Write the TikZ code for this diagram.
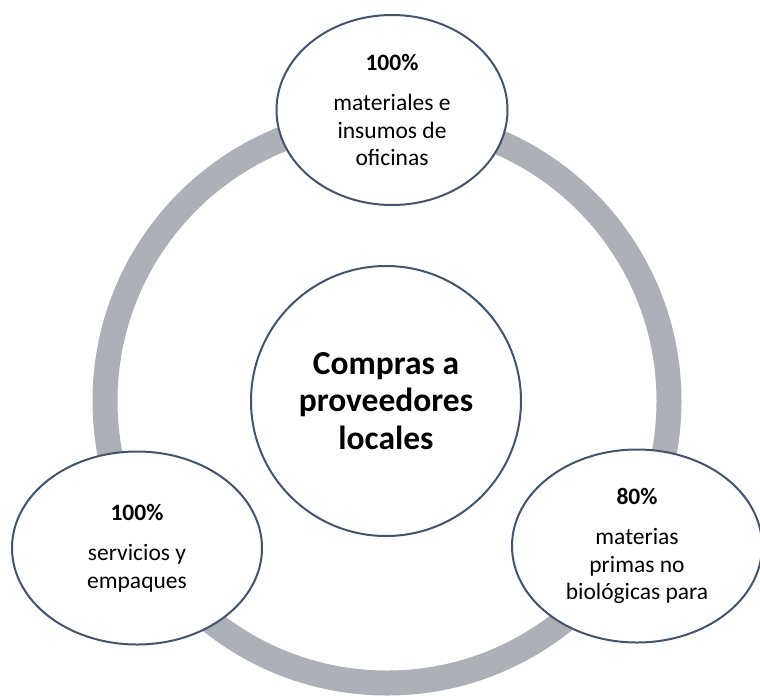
\documentclass[tikz,border=0pt]{standalone}
\usepackage{fontspec}
\setmainfont{Carlito}
\usepackage{tikz}
\usetikzlibrary{shapes.geometric}
\definecolor{ringgray}{RGB}{174,176,183}
\definecolor{edgeblue}{RGB}{68,84,106}

\begin{document}
\begin{tikzpicture}[x=1pt, y=-1pt,
        hub/.style={draw=edgeblue, line width=2pt, circle, fill=white, minimum size=270pt, inner sep=0pt, align=center, font=\fontsize{33.5}{37.5}\selectfont\bfseries},
        bubble/.style={draw=edgeblue, line width=2pt, ellipse, fill=white, inner sep=0pt, align=center, minimum width=250pt, minimum height=193pt, font=\fontsize{23.5}{27.5}\selectfont},
        ring/.style={draw=ringgray, line width=25pt}
    ]
        \useasboundingbox (0,0) rectangle (760,697);

        % Ring
        \draw[ring] (387,401) circle[radius=282pt];

        % Nodes
        \node[hub] (hub) at (386,401) {Compras a\\proveedores\\locales};
        \node[bubble, minimum width=231pt, minimum height=190pt] (oficinas) at (392,110) {\textbf{100\%}\\[13pt]materiales e\\insumos de\\oficinas};
        \node[bubble] (servicios) at (137,548) {\textbf{100\%}\\[13pt]servicios y\\empaques};
        \node[bubble] (materias) at (637,546) {\textbf{80\%}\\[13pt]materias\\primas no\\biológicas para};
    \end{tikzpicture}
\end{document}
